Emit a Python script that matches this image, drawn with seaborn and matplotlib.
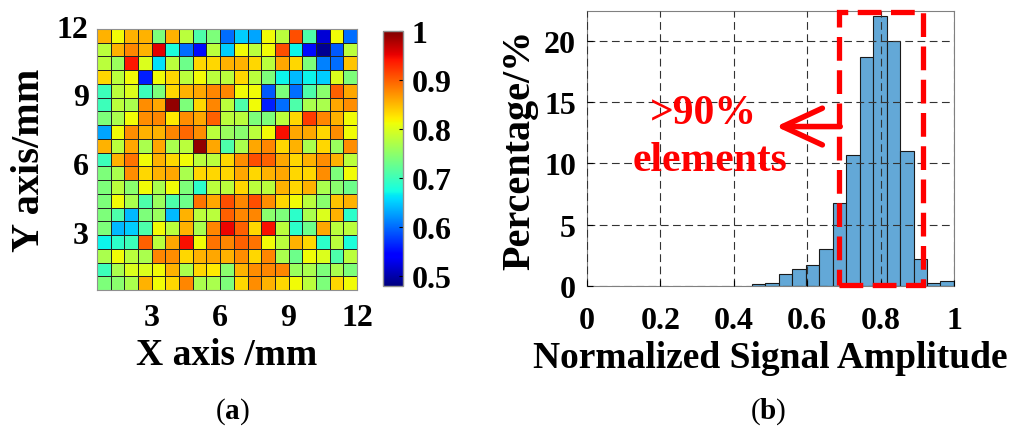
import matplotlib
matplotlib.use("Agg")
import matplotlib.pyplot as plt
from matplotlib.patches import Rectangle
import numpy as np
import pandas as pd
import seaborn as sns

# Normalized amplitude of each element (19 x 19), top row = Y 12 mm
amp_map = [
    [0.855, 0.815, 0.855, 0.855, 0.74, 0.855, 0.78, 0.71, 0.74, 0.60, 0.65, 0.63, 0.815, 0.78, 0.91, 0.71, 0.52, 0.815, 0.60],
    [0.78, 0.855, 0.88, 0.855, 0.955, 0.68, 0.60, 0.55, 0.78, 0.65, 0.815, 0.78, 0.815, 0.91, 0.67, 0.55, 0.49, 0.59, 0.78],
    [0.78, 0.76, 0.94, 0.80, 0.66, 0.78, 0.73, 0.835, 0.835, 0.855, 0.855, 0.835, 0.78, 0.86, 0.835, 0.74, 0.61, 0.60, 0.845],
    [0.835, 0.78, 0.815, 0.56, 0.815, 0.835, 0.78, 0.815, 0.78, 0.78, 0.835, 0.78, 0.74, 0.67, 0.64, 0.67, 0.65, 0.80, 0.74],
    [0.70, 0.78, 0.80, 0.70, 0.74, 0.835, 0.855, 0.86, 0.88, 0.88, 0.815, 0.815, 0.59, 0.74, 0.60, 0.71, 0.75, 0.90, 0.86],
    [0.70, 0.78, 0.77, 0.875, 0.86, 0.99, 0.74, 0.835, 0.88, 0.78, 0.71, 0.815, 0.56, 0.60, 0.71, 0.77, 0.77, 0.86, 0.875],
    [0.74, 0.77, 0.815, 0.875, 0.88, 0.825, 0.875, 0.86, 0.90, 0.78, 0.78, 0.74, 0.74, 0.78, 0.835, 0.92, 0.88, 0.855, 0.815],
    [0.63, 0.815, 0.875, 0.855, 0.855, 0.88, 0.895, 0.875, 0.78, 0.76, 0.75, 0.78, 0.815, 0.945, 0.86, 0.86, 0.835, 0.875, 0.815],
    [0.855, 0.78, 0.86, 0.77, 0.86, 0.77, 0.78, 0.99, 0.86, 0.71, 0.77, 0.86, 0.88, 0.835, 0.855, 0.77, 0.835, 0.76, 0.875],
    [0.70, 0.855, 0.89, 0.815, 0.855, 0.835, 0.815, 0.78, 0.78, 0.835, 0.875, 0.91, 0.90, 0.86, 0.835, 0.855, 0.875, 0.855, 0.78],
    [0.74, 0.77, 0.875, 0.835, 0.855, 0.86, 0.77, 0.835, 0.835, 0.835, 0.86, 0.835, 0.855, 0.86, 0.835, 0.835, 0.875, 0.74, 0.815],
    [0.74, 0.78, 0.75, 0.815, 0.77, 0.815, 0.74, 0.69, 0.78, 0.78, 0.835, 0.78, 0.78, 0.855, 0.835, 0.855, 0.77, 0.75, 0.73],
    [0.74, 0.815, 0.77, 0.71, 0.76, 0.71, 0.73, 0.89, 0.86, 0.91, 0.88, 0.91, 0.875, 0.835, 0.815, 0.78, 0.75, 0.845, 0.855],
    [0.74, 0.71, 0.64, 0.74, 0.76, 0.64, 0.855, 0.78, 0.78, 0.90, 0.88, 0.88, 0.75, 0.74, 0.69, 0.77, 0.80, 0.855, 0.69],
    [0.74, 0.64, 0.65, 0.71, 0.815, 0.78, 0.855, 0.77, 0.88, 0.95, 0.90, 0.835, 0.945, 0.78, 0.69, 0.73, 0.86, 0.78, 0.78],
    [0.67, 0.69, 0.70, 0.90, 0.78, 0.86, 0.945, 0.815, 0.89, 0.88, 0.90, 0.89, 0.815, 0.78, 0.855, 0.835, 0.69, 0.78, 0.68],
    [0.77, 0.815, 0.78, 0.77, 0.88, 0.875, 0.835, 0.855, 0.86, 0.855, 0.875, 0.835, 0.88, 0.77, 0.73, 0.815, 0.80, 0.71, 0.78],
    [0.70, 0.77, 0.80, 0.80, 0.815, 0.855, 0.77, 0.835, 0.825, 0.75, 0.855, 0.875, 0.88, 0.88, 0.76, 0.77, 0.74, 0.77, 0.74],
    [0.74, 0.75, 0.77, 0.855, 0.815, 0.835, 0.88, 0.77, 0.77, 0.74, 0.835, 0.875, 0.855, 0.835, 0.815, 0.78, 0.74, 0.835, 0.815],
]
map_tick_labels = ["3", "6", "9", "12"]
cbar_ticks = [0.5, 0.6, 0.7, 0.8, 0.9, 1.0]
cbar_labels = ["0.5", "0.6", "0.7", "0.8", "0.9", "1"]

# Histogram of the normalized amplitude (percent of elements per bin)
hist_edges = list(np.linspace(0.449, 1.0, 16))
hist_pct = [0.2, 0.25, 1.0, 1.4, 1.75, 3.0, 6.75, 10.7, 18.7, 22.0, 20.0, 11.0, 2.2, 0.25, 0.45]
hist_xticks = [0, 0.2, 0.4, 0.6, 0.8, 1.0]
hist_xlabels = ["0", "0.2", "0.4", "0.6", "0.8", "1"]
hist_yticks = [0, 5, 10, 15, 20]

SERIF = "Liberation Serif"
plt.rcParams["font.family"] = [SERIF, "DejaVu Serif"]
plt.rcParams["mathtext.fontset"] = "custom"
plt.rcParams["mathtext.rm"] = SERIF
plt.rcParams["mathtext.bf"] = SERIF + ":bold"

fig = plt.figure(figsize=(10.25, 4.35), dpi=100)
ax1 = fig.add_axes([0.0946, 0.331, 0.2537, 0.600])
cax = fig.add_axes([0.3737, 0.340, 0.0195, 0.586])
ax2 = fig.add_axes([0.5727, 0.340, 0.358, 0.632])

tick_font = dict(fontsize=23, fontweight="bold")
xlabel_font = dict(fontsize=27, fontweight="bold")
ylabel_font = dict(fontsize=29, fontweight="bold")

# (a) element amplitude map
sns.heatmap(np.array(amp_map), cmap="jet", vmin=0.48, vmax=1.0, ax=ax1, cbar_ax=cax,
            linewidths=0.6, linecolor="#222222")
ax1.set_xticks([4, 9, 14, 19])
ax1.set_xticklabels(map_tick_labels, rotation=0, **tick_font)
ax1.set_yticks([15, 10, 5, 0])
ax1.set_yticklabels(map_tick_labels, rotation=0, **tick_font)
ax1.tick_params(length=0, pad=6)
ax1.tick_params(axis="x", pad=9)
for sp in ax1.spines.values():
    sp.set_visible(True)
    sp.set_color("#909090")
ax1.set_xlabel("X axis /mm", labelpad=4, **xlabel_font)
ax1.set_ylabel("Y axis/mm", labelpad=6, **ylabel_font)

cax.set_yticks(cbar_ticks)
cax.set_yticklabels(cbar_labels, **tick_font)
cax.tick_params(axis="y", length=3, direction="in", pad=6)
cbar = ax1.collections[0].colorbar
cbar.outline.set_edgecolor("#909090")
cbar.outline.set_linewidth(1)

# (b) amplitude histogram
centers = [(lo + hi) / 2 for lo, hi in zip(hist_edges[:-1], hist_edges[1:])]
hist_df = pd.DataFrame({"amplitude": centers, "pct": hist_pct})
sns.histplot(data=hist_df, x="amplitude", weights="pct", bins=hist_edges, ax=ax2,
             color="#63a8d7", edgecolor="#1a1a1a", linewidth=0.8, alpha=1)
ax2.set_xlim(0, 1)
ax2.set_ylim(0, 22.4)
ax2.set_xticks(hist_xticks)
ax2.set_xticklabels(hist_xlabels, **tick_font)
ax2.set_yticks(hist_yticks)
ax2.set_yticklabels([str(v) for v in hist_yticks], **tick_font)
ax2.tick_params(length=4, direction="in", pad=8)
ax2.tick_params(axis="x", pad=14)
ax2.set_axisbelow(False)
ax2.grid(True, linestyle=(0, (7, 4)), color="#333333", linewidth=0.8)
for sp in ax2.spines.values():
    sp.set_color("#808080")
ax2.set_xlabel("Normalized Signal Amplitude", labelpad=4, **xlabel_font)
ax2.set_ylabel("Percentage/%", labelpad=4, **ylabel_font)

# highlighted region and annotation
ax2.add_patch(Rectangle((0.687, 0.05), 0.228, 22.3, fill=False, edgecolor="red",
                        linewidth=3.8, linestyle=(0, (4.5, 1.8)), clip_on=False, zorder=5))
ax2.annotate("", xy=(0.515, 13.0), xytext=(0.69, 13.0),
             arrowprops=dict(arrowstyle="->, head_length=1.3, head_width=0.6", color="red",
                             lw=4, mutation_scale=22, shrinkA=0, shrinkB=0), zorder=6)
ax2.text(0.316, 14.1, ">90%", color="red", fontsize=30, fontweight="bold", ha="center", va="center")
ax2.text(0.334, 10.3, "elements", color="red", fontsize=30, fontweight="bold", ha="center", va="center")

fig.text(232 / 1025, 1 - 412 / 435, r"($\mathbf{a}$)", fontsize=21, ha="center", va="center")
fig.text(768 / 1025, 1 - 412 / 435, r"($\mathbf{b}$)", fontsize=21, ha="center", va="center")

fig.savefig("out.png", dpi=100)
